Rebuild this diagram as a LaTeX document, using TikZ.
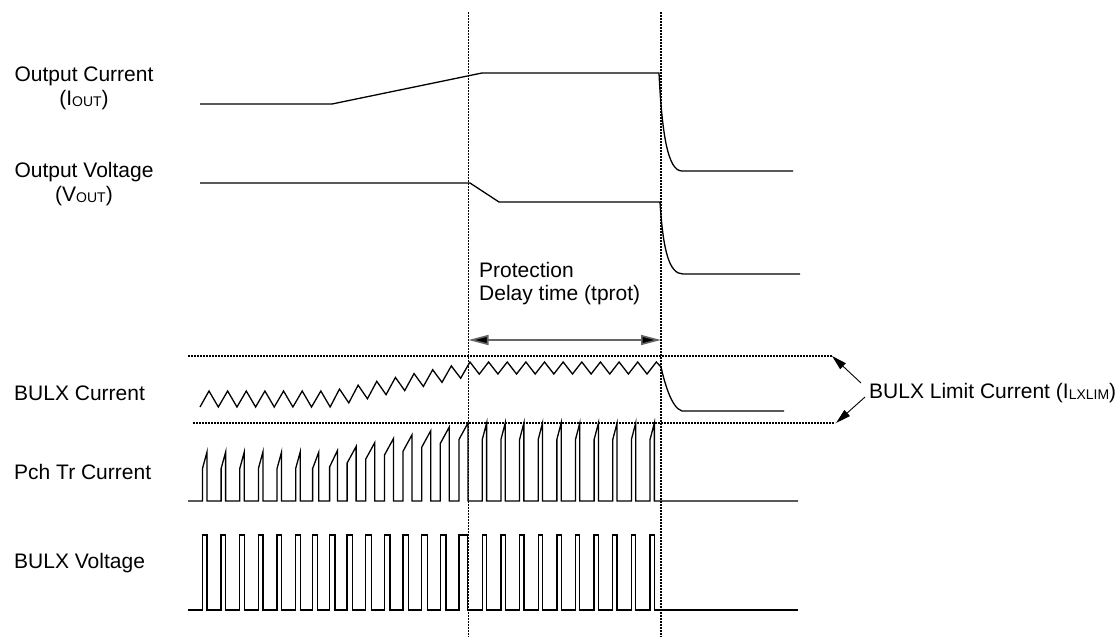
\documentclass[tikz,border=0pt]{standalone}
\usepackage{fontspec}
\setmainfont{Liberation Sans}
\usetikzlibrary{arrows.meta}
\newcommand\lowsub[1]{\raisebox{-1.5pt}{\fontsize{14}{14}\selectfont #1}}
\begin{document}
\begin{tikzpicture}[x=1pt,y=-1pt,
  wave/.style={line width=1.3pt, line join=miter},
  guide/.style={line width=1.5pt, dash pattern=on 2pt off 1pt},
  lbl/.style={font=\fontsize{21}{25}\selectfont, inner sep=0pt},
  protarrow/.style={line width=1.6pt, draw=black!60, {Triangle[length=20pt,width=10pt,fill=black]}-{Triangle[length=20pt,width=10pt,fill=black]}},
  limarrow/.style={line width=0.9pt, -{Triangle[length=15pt,width=8pt]}},
  declare function={
    clmp(\a)=max(0,min(1,\a));
    bxp(\a)=209+18.64*\a;
    bxt(\a)=218.32+18.64*\a;
    bpk(\a)=391-29*clmp((\a-330)/140);
    btr(\a)=407-33*clmp((\a-330)/150);
    pxf(\a)=207+18.64*\a;
    pwd(\a)=4.5+4.5*clmp((pxf(\a)-300)/50)-4.7*greater(\a,14);
    pxr(\a)=pxf(\a)-pwd(\a);
    ppk(\a)=452-29*clmp((pxf(\a)-330)/138);
    vwd(\a)=4.5+1.2*clmp((pxf(\a)-300)/50)+3*equal(\a,14)-1.4*greater(\a,14);
  }]
\useasboundingbox (0,0) rectangle (1120,637);

% labels
\node[lbl, anchor=base] (ioutA) at (84,81) {Output Current};
\node[lbl, anchor=base] (ioutB) at (84,105) {(I\lowsub{OUT})};
\node[lbl, anchor=base] (voutA) at (84,177) {Output Voltage};
\node[lbl, anchor=base] (voutB) at (84,201) {(V\lowsub{OUT})};
\node[lbl, anchor=base west] (bulxi) at (14,400) {BULX Current};
\node[lbl, anchor=base west] (pch) at (14,479) {Pch Tr Current};
\node[lbl, anchor=base west] (bulxv) at (14,568) {BULX Voltage};
\node[lbl, anchor=base west] (prot1) at (479,277) {Protection};
\node[lbl, anchor=base west] (prot2) at (479,300) {Delay time (tprot)};
\node[lbl, anchor=base west] (lim) at (869,398) {BULX Limit Current (I\lowsub{LXLIM})};

% guide lines
\coordinate (t1top) at (468.5,12);  \coordinate (t1bot) at (468.5,637);
\coordinate (t2top) at (661,12);    \coordinate (t2bot) at (661,637);
\draw[guide] (t1top) -- (t1bot);
\draw[guide] (t2top) -- (t2bot);
\coordinate (limU1) at (188,356); \coordinate (limU2) at (832,356);
\coordinate (limL1) at (193,423); \coordinate (limL2) at (835,423);
\draw[guide] (limU1) -- (limU2);
\draw[guide] (limL1) -- (limL2);

% protection arrow
\coordinate (pa1) at (468.5,340); \coordinate (pa2) at (661,340);
\draw[protarrow] (pa1) -- (pa2);

% limit arrows
\coordinate (la1) at (861,383); \coordinate (la2) at (865,397);
\draw[limarrow] (la1) -- (limU2);
\draw[limarrow] (la2) -- (836,423);

% output current
\draw[wave] (200,104) -- (332,104) -- (482,73) -- (659,73)
  .. controls (662,135) and (668,171) .. (682,171) -- (793,171);
% output voltage
\draw[wave] (200,183) -- (470,183) -- (499,202) -- (660,202)
  .. controls (663,250) and (669,274) .. (683,274) -- (800,274);

% BULX current
\draw[wave] (200,407)
  \foreach \k in {0,...,23} { -- ({bxp(\k)},{bpk(bxp(\k))}) -- ({bxt(\k)},{btr(bxt(\k))}) }
  -- ({bxp(24)},362) -- (661,367)
  .. controls (664,380) and (671,408) .. (682,411) -- (784,411);

% Pch Tr current
\draw[wave] (188,501)
  \foreach \k in {0,...,24} { -- ({pxr(\k)},501) -- ({pxr(\k)},{ppk(\k)+16.5}) -- ({pxf(\k)},{ppk(\k)}) -- ({pxf(\k)},501) }
  -- (798,501);

% BULX voltage
\draw[wave] (188,610)
  \foreach \k in {0,...,24} { -- ({pxr(\k)},610) -- ({pxr(\k)},535) -- ({pxr(\k)+vwd(\k)},535) -- ({pxr(\k)+vwd(\k)},610) }
  -- (798,610);
\end{tikzpicture}
\end{document}
